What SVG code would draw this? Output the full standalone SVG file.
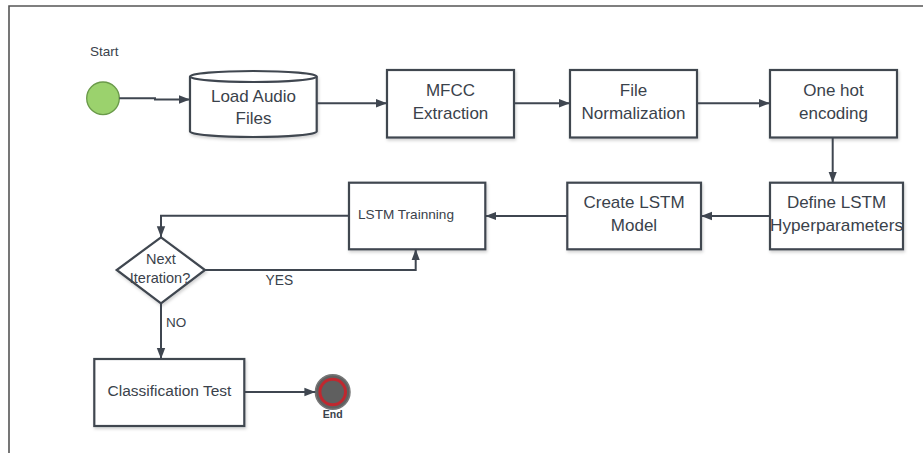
<svg xmlns="http://www.w3.org/2000/svg" width="923" height="453" viewBox="0 0 923 453">
<defs>
<marker id="arr" markerUnits="userSpaceOnUse" markerWidth="12" markerHeight="10" refX="11" refY="5" orient="auto">
<path d="M0,0.8 L11,5 L0,9.2 Z" fill="#3f4650"/>
</marker>
<filter id="sh" x="-10%" y="-10%" width="125%" height="130%">
<feDropShadow dx="1" dy="2" stdDeviation="1.5" flood-color="#000" flood-opacity="0.18"/>
</filter>
</defs>
<style>
.box{fill:#fff;stroke:#3f4650;stroke-width:2.2;filter:url(#sh)}
.t{font-family:"Liberation Sans",Arial,sans-serif;font-size:17px;fill:#3a424b;text-anchor:middle}
.s{font-family:"Liberation Sans",Arial,sans-serif;fill:#3a424b}
.c{fill:none;stroke:#3f4650;stroke-width:2}
</style>
<rect width="923" height="453" fill="#fff"/>
<path d="M9,453 V6 H923" fill="none" stroke="#555" stroke-width="1.6"/>

<g id="start">
<text class="s" x="90" y="56" font-size="13.5">Start</text>
<circle cx="103" cy="98.3" r="16.3" fill="#9bd26d" stroke="#6a9a4a" stroke-width="1.3"/>
</g>

<g id="load">
<path class="box" d="M190,76.5 A63.3,5.5 0 0 1 316.7,76.5 L316.7,131.5 A63.3,5.5 0 0 1 190,131.5 Z"/>
<path d="M190,76.5 A63.3,5.5 0 0 0 316.7,76.5" fill="none" stroke="#3f4650" stroke-width="2.2"/>
<text class="t" x="253.5" y="102">Load Audio</text>
<text class="t" x="253.5" y="124">Files</text>
</g>

<g id="mfcc">
<rect class="box" x="387" y="70" width="127" height="67.5"/>
<text class="t" x="450.5" y="96">MFCC</text>
<text class="t" x="450.5" y="119">Extraction</text>
</g>

<g id="norm">
<rect class="box" x="570" y="70" width="127" height="67.5"/>
<text class="t" x="633.5" y="96">File</text>
<text class="t" x="633.5" y="119">Normalization</text>
</g>

<g id="onehot">
<rect class="box" x="770" y="70" width="127" height="67.5"/>
<text class="t" x="833.5" y="96">One hot</text>
<text class="t" x="833.5" y="119">encoding</text>
</g>

<g id="define">
<rect class="box" x="770" y="182.7" width="133" height="66.6"/>
<text class="t" x="836.5" y="208">Define LSTM</text>
<text class="t" x="836.5" y="231" textLength="133" lengthAdjust="spacingAndGlyphs">Hyperparameters</text>
</g>

<g id="create">
<rect class="box" x="567.3" y="182.7" width="133.7" height="66.6"/>
<text class="t" x="634" y="208">Create LSTM</text>
<text class="t" x="634" y="231">Model</text>
</g>

<g id="train">
<rect class="box" x="349" y="182.7" width="136.3" height="66.6"/>
<text class="s" x="358" y="219" font-size="13.6">LSTM Trainning</text>
</g>

<g id="decision">
<path class="box" d="M161,237.3 L205,270 L161,303.3 L116.7,270 Z"/>
<text class="s" x="161" y="263.5" font-size="14.5" text-anchor="middle">Next</text>
<text class="s" x="160" y="283" font-size="14.5" text-anchor="middle">Iteration?</text>
</g>

<g id="classify">
<rect class="box" x="94.3" y="359" width="150" height="67"/>
<text class="s" x="169.5" y="395.5" font-size="15.5" text-anchor="middle">Classification Test</text>
</g>

<g id="end">
<circle cx="332.7" cy="392" r="17.3" fill="#606060" stroke="#777" stroke-width="1.5"/>
<circle cx="332.7" cy="392" r="12.8" fill="#5f5f5f" stroke="#c0282f" stroke-width="3"/>
<text class="s" x="332.7" y="418" font-size="10.5" font-weight="bold" text-anchor="middle" fill="#333">End</text>
</g>

<g id="connectors">
<path class="c" d="M119.3,98.3 H155 V99.5 H190" marker-end="url(#arr)"/>
<path class="c" d="M316.7,103.3 H387" marker-end="url(#arr)"/>
<path class="c" d="M514,103.3 H570" marker-end="url(#arr)"/>
<path class="c" d="M697,103.3 H770" marker-end="url(#arr)"/>
<path class="c" d="M832.7,137.5 V182.7" marker-end="url(#arr)"/>
<path class="c" d="M770,216 H701" marker-end="url(#arr)"/>
<path class="c" d="M567.3,216 H485.3" marker-end="url(#arr)"/>
<path class="c" d="M349,215.7 H161 V237.3" marker-end="url(#arr)"/>
<path class="c" d="M205,270 H415.7 V249.3" marker-end="url(#arr)"/>
<path class="c" d="M161,303.3 V359" marker-end="url(#arr)"/>
<path class="c" d="M244.3,392 H315.4" marker-end="url(#arr)"/>
<text class="s" x="265.5" y="284.5" font-size="13.8">YES</text>
<text class="s" x="166" y="327" font-size="13.5">NO</text>
</g>
</svg>
